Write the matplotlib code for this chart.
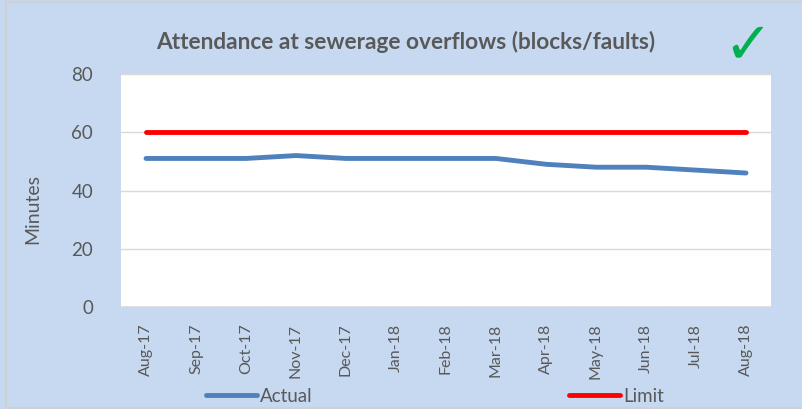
import matplotlib.pyplot as plt
import matplotlib.patches as mpatches
import numpy as np

# ── Data ──────────────────────────────────────────────────────────────────────
months = ['Aug-17', 'Sep-17', 'Oct-17', 'Nov-17', 'Dec-17', 'Jan-18', 'Feb-18',
          'Mar-18', 'Apr-18', 'May-18', 'Jun-18', 'Jul-18', 'Aug-18']
actual = [51, 51, 51, 52, 51, 51, 51, 51, 49, 48, 48, 47, 46]
limit = [60] * len(months)

# ── Style ─────────────────────────────────────────────────────────────────────
BG = '#C6D9F0'
TXT = '#595959'
BLUE = '#4F81BD'
RED = '#FF0000'
plt.rcParams['font.family'] = ['Lato', 'DejaVu Sans']

fig = plt.figure(figsize=(8.03, 4.09), dpi=100)
fig.patch.set_facecolor(BG)
fig.patches.append(mpatches.Rectangle((0.008, 0.002), 0.995, 0.993, transform=fig.transFigure,
                                      fill=False, edgecolor='#D0D0D0', linewidth=1.5, zorder=-1))
ax = fig.add_axes([121 / 803, 1 - 307 / 409, 650 / 803, 233 / 409])
ax.set_facecolor('white')

x = np.arange(len(months))
ax.plot(x, actual, color=BLUE, linewidth=3.5, solid_capstyle='round', label='Actual')
ax.plot(x, limit, color=RED, linewidth=3.5, solid_capstyle='round', label='Limit')

ax.set_xlim(-0.5, len(months) - 0.5)
ax.set_ylim(0, 80)
ax.set_yticks([0, 20, 40, 60, 80])
ax.yaxis.grid(True, color='#D9D9D9', linewidth=1)
ax.set_axisbelow(True)
for s in ['top', 'right', 'left']:
    ax.spines[s].set_visible(False)
ax.spines['bottom'].set_color('#D9D9D9')
ax.spines['bottom'].set_linewidth(1.2)

ax.set_xticks(x)
ax.set_xticklabels(months, rotation=90, fontsize=11.5, color=TXT)
ax.tick_params(axis='x', length=0, pad=12)
ax.set_xticks(np.arange(-0.5, len(months), 1), minor=True)
ax.tick_params(axis='x', which='minor', length=5, color='#D9D9D9')
ax.tick_params(axis='y', length=0, labelsize=13.5, labelcolor=TXT, pad=20)

ax.set_ylabel('Minutes', fontsize=14, color=TXT)
ax.yaxis.set_label_coords(-80 / 650, 0.42)

fig.text(406 / 803, 1 - 42 / 409, 'Attendance at sewerage overflows (blocks/faults)',
         ha='center', va='center', fontsize=16.3, fontweight='bold', color=TXT)
fig.text(748 / 803, 1 - 46 / 409, '\u2713', ha='center', va='center',
         fontsize=42, fontweight='bold', color='#00B050', family='DejaVu Sans')

fig.legend(loc='center', bbox_to_anchor=(435 / 803, 1 - 396 / 409), ncol=2, frameon=False,
           fontsize=13.5, handlelength=2.7, handletextpad=0.2, columnspacing=13.65,
           labelcolor=TXT)

plt.savefig('out.png', dpi=100, facecolor=fig.get_facecolor())
